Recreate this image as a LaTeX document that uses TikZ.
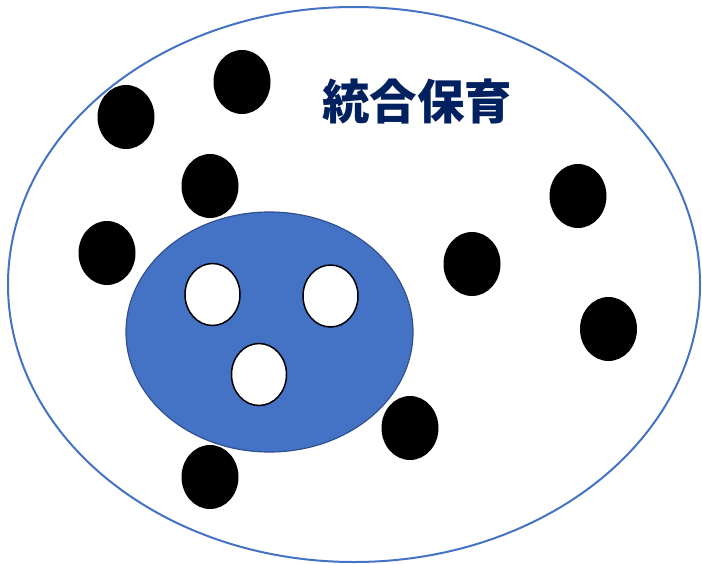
\documentclass[tikz,border=0pt]{standalone}
\usepackage{fontspec}
\usepackage{xcolor}
\usepackage{tikz}
\usetikzlibrary{shapes.geometric}
\newfontfamily\cjk{Noto Sans CJK JP}

\definecolor{lineblue}{RGB}{68,114,196}
\definecolor{darkline}{RGB}{47,82,143}
\definecolor{titleblue}{RGB}{0,32,96}

\begin{document}
\begin{tikzpicture}[x=1pt, y=-1pt,
    child/.style={ellipse, fill=black, inner sep=0pt, minimum width=57pt, minimum height=64pt},
    holechild/.style={ellipse, draw=black, line width=1.5pt, fill=white, inner sep=0pt,
        minimum width=55pt, minimum height=62pt}]
    \useasboundingbox (0,0) rectangle (702,563);

    % 1. Vòng ngoài
    \node[ellipse, draw=lineblue, line width=2pt, inner sep=0pt,
        minimum width=692pt, minimum height=555pt] (outer) at (354,284.5) {};
    \node[text=titleblue, font=\cjk\bfseries\fontsize{47.5}{47.5}\selectfont] (title) at (417,101) {統合保育};

    % 2. Nhóm bên trong
    \node[ellipse, draw=darkline, line width=1.2pt, fill=lineblue, inner sep=0pt,
        minimum width=287pt, minimum height=240pt] (group) at (269.5,332) {};
    \node[holechild] (h1) at (212.5,294.5) {};
    \node[holechild] (h2) at (330.5,296) {};
    \node[holechild] (h3) at (259,374.5) {};

    % 3. Các chấm đen
    \node[child] (c1) at (242,82) {};
    \node[child] (c2) at (126,117) {};
    \node[child] (c3) at (210,186) {};
    \node[child] (c4) at (107,253) {};
    \node[child] (c5) at (578,196) {};
    \node[child] (c6) at (472,264) {};
    \node[child] (c7) at (608.5,329) {};
    \node[child] (c8) at (410,428) {};
    \node[child] (c9) at (210,477) {};

\end{tikzpicture}
\end{document}
